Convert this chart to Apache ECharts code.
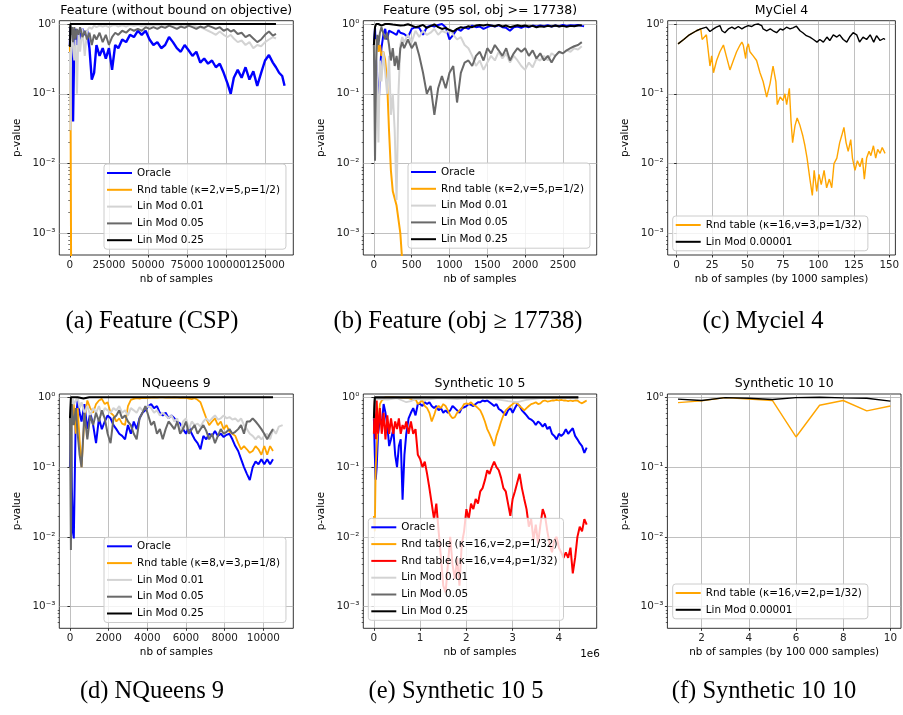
<!DOCTYPE html>
<html><head><meta charset="utf-8">
<script src="https://cdn.jsdelivr.net/npm/echarts@6.0.0/dist/echarts.min.js"></script>
<style>html,body{margin:0;padding:0;background:#fff}#c{width:903px;height:715px}</style>
</head><body><div id="c"></div>
<script>
// ---------------- tick labels ----------------
const xTicksA = [0, 25000, 50000, 75000, 100000, 125000];
const xTicksB = [0, 500, 1000, 1500, 2000, 2500];
const xTicksC = [0, 25, 50, 75, 100, 125, 150];
const xTicksD = [0, 2000, 4000, 6000, 8000, 10000];
const xTicksE = [0, 1, 2, 3, 4];          // in units of 1e6
const xTicksF = [2, 4, 6, 8, 10];
const yMajor = [0.001, 0.01, 0.1, 1];
const yMinor = [6e-4, 7e-4, 8e-4, 9e-4, 2e-3, 3e-3, 4e-3, 5e-3, 6e-3, 7e-3, 8e-3, 9e-3,
  0.02, 0.03, 0.04, 0.05, 0.06, 0.07, 0.08, 0.09, 0.2, 0.3, 0.4, 0.5, 0.6, 0.7, 0.8, 0.9];
const yTickText = {'0': '10⁰', '-1': '10⁻¹', '-2': '10⁻²', '-3': '10⁻³'};

// ---------------- (a) Feature (without bound on objective) ----------------
const xA = [0, 400, 800, 1300, 2000, 2800, 3600, 4500, 5500, 6500,
  8000, 9500, 11000, 12500, 14000, 15500, 17000, 19000, 21000, 23000,
  25000, 27000, 29000, 31000, 33500, 36000, 38500, 41000, 43500, 46000,
  48500, 51000, 53500, 56000, 58500, 61000, 63500, 66000, 68500, 71000,
  73500, 76000, 78500, 81000, 83500, 86000, 88500, 91000, 93500, 96000,
  98500, 101000, 103000, 105000, 107500, 110000, 112500, 115000, 117500, 120000,
  122500, 125000, 127500, 130000, 132000, 134000, 136000, 137500];
const oracleA = [0.5, 0.9, 0.6, 0.2, 0.04, 0.6, 0.85, 0.5, 0.8, 0.6,
  0.85, 0.7, 0.8, 0.45, 0.16, 0.2, 0.5, 0.35, 0.45, 0.32,
  0.45, 0.22, 0.5, 0.45, 0.6, 0.55, 0.7, 0.65, 0.8, 0.7,
  0.8, 0.6, 0.5, 0.55, 0.45, 0.5, 0.65, 0.55, 0.45, 0.4,
  0.5, 0.42, 0.35, 0.4, 0.28, 0.32, 0.27, 0.3, 0.24, 0.27,
  0.2, 0.14, 0.1, 0.17, 0.22, 0.17, 0.24, 0.16, 0.21, 0.13,
  0.2, 0.3, 0.36, 0.28, 0.24, 0.2, 0.18, 0.13];
const rndA = [0.5, 0.08, 0.0002];
const lin001A = [0.4, 0.03, 0.6, 0.9, 0.5, 0.3, 0.6, 0.1, 0.8, 0.4,
  0.85, 0.35, 0.8, 0.9, 0.85, 0.95, 0.9, 0.95, 0.92, 0.95,
  0.9, 0.95, 0.97, 0.92, 0.96, 0.92, 0.97, 0.94, 0.97, 0.93,
  0.97, 0.94, 0.97, 0.95, 0.98, 0.95, 0.98, 0.95, 0.97, 0.94,
  0.97, 0.93, 0.96, 0.92, 0.9, 0.85, 0.8, 0.75, 0.7, 0.78,
  0.7, 0.65, 0.7, 0.62, 0.55, 0.58, 0.5, 0.55, 0.45, 0.5,
  0.48, 0.55, 0.6, 0.65, 0.62];
const lin005A = [0.5, 0.95, 0.7, 0.9, 0.55, 0.9, 0.6, 0.85, 0.7, 0.9,
  0.65, 0.8, 0.6, 0.75, 0.5, 0.7, 0.6, 0.75, 0.55, 0.7,
  0.5, 0.65, 0.75, 0.7, 0.8, 0.75, 0.85, 0.8, 0.85, 0.8,
  0.9, 0.85, 0.9, 0.85, 0.92, 0.88, 0.95, 0.9, 0.85, 0.92,
  0.88, 0.95, 0.9, 0.85, 0.92, 0.88, 0.95, 0.9, 0.85, 0.9,
  0.8, 0.85, 0.78, 0.82, 0.72, 0.75, 0.65, 0.7, 0.62, 0.55,
  0.6, 0.7, 0.78, 0.68, 0.72];
const lin025Ax = [0, 300, 1000, 132000];
const lin025A = [0.47, 1.0, 1.0, 1.0];

// ---------------- (b) Feature (95 sol, obj >= 17738) ----------------
const xB = [0, 15, 30, 45, 60, 80, 100, 125, 150, 175,
  200, 225, 250, 275, 300, 325, 350, 375, 400,
  450, 500, 550, 600, 650, 700, 750, 800, 850, 900,
  950, 1000, 1050, 1100, 1150, 1200, 1250, 1300, 1350, 1400,
  1450, 1500, 1550, 1600, 1650, 1700, 1750, 1800, 1850, 1900,
  1950, 2000, 2050, 2100, 2150, 2200, 2250, 2300, 2350, 2400,
  2450, 2500, 2550, 2600, 2650, 2700, 2750, 2780];
const oracleB = [0.5, 0.9, 0.3, 0.15, 0.055, 0.2, 0.45, 0.7, 0.85, 0.6,
  0.8, 0.85, 0.75, 0.8, 0.7, 0.82, 0.75, 0.8, 0.72,
  0.65, 0.85, 0.9, 0.88, 0.7, 0.9, 0.95, 0.92, 0.97, 1.0,
  0.9, 0.6, 0.7, 0.85, 0.8, 0.9, 0.85, 0.95, 0.9, 0.92,
  0.85, 0.9, 0.95, 0.92, 0.96, 0.9, 0.88, 0.8, 0.9, 0.92,
  0.88, 0.93, 0.9, 0.95, 0.92, 0.95, 0.93, 0.96, 0.92, 0.95,
  0.93, 0.97, 0.94, 0.96, 0.95, 0.97, 0.94, 0.93];
const rndB = [0.5, 0.6, 0.45, 0.55, 0.4, 0.5, 0.35, 0.4, 0.3, 0.15,
  0.03, 0.008, 0.004, 0.004, 0.0025, 0.0025, 0.001, 0.0004, 0.0002];
const lin001B = [0.5, 0.3, 0.6, 0.1, 0.02, 0.3, 0.15, 0.4, 0.2, 0.1,
  0.35, 0.05, 0.1, 0.03, 0.003, 0.1, 0.5, 0.65, 0.55,
  0.7, 0.55, 0.8, 0.65, 0.8, 0.7, 0.75, 0.85, 0.7, 0.8,
  0.75, 0.85, 0.7, 0.6, 0.65, 0.5, 0.45, 0.35, 0.25, 0.3,
  0.22, 0.28, 0.35, 0.3, 0.4, 0.32, 0.38, 0.28, 0.35, 0.3,
  0.25, 0.22, 0.28, 0.24, 0.32, 0.3, 0.35, 0.3, 0.38, 0.35,
  0.4, 0.38, 0.42, 0.4, 0.45, 0.43, 0.48];
const lin005B = [0.5, 0.011, 0.3, 0.7, 0.5, 0.75, 0.9, 0.85, 0.6, 0.75,
  0.5, 0.3, 0.45, 0.25, 0.35, 0.22, 0.45, 0.55, 0.45,
  0.6, 0.45, 0.55, 0.35, 0.2, 0.1, 0.13, 0.05, 0.12, 0.18,
  0.12, 0.2, 0.25, 0.075, 0.2, 0.28, 0.3, 0.25, 0.35, 0.4,
  0.3, 0.45, 0.38, 0.5, 0.42, 0.35, 0.45, 0.3, 0.38, 0.45,
  0.4, 0.45, 0.35, 0.42, 0.32, 0.38, 0.3, 0.35, 0.28, 0.35,
  0.4, 0.38, 0.42, 0.45, 0.48, 0.5, 0.55];
const lin025B = [0.5, 0.9, 1.0, 0.95, 1.0, 0.97, 0.95, 1.0, 1.0, 0.98,
  1.0, 0.95, 0.98, 0.92, 0.97, 0.99, 0.95, 0.98, 0.96,
  0.99, 0.95, 0.9, 0.93, 0.97, 0.88, 0.93, 0.99, 0.9, 0.85,
  0.88, 0.82, 0.78, 0.85, 0.9, 0.88, 0.93, 0.9, 0.95, 0.97,
  0.95, 0.98, 0.95, 0.93, 0.97, 0.92, 0.95, 0.9, 0.93, 0.96,
  0.93, 0.95, 0.92, 0.94, 0.9, 0.93, 0.91, 0.94, 0.92, 0.95,
  0.92, 0.94, 0.91, 0.94, 0.93, 0.95, 0.96];

// ---------------- (c) MyCiel 4 (x in thousands of samples) ----------------
const rndCx = [1, 5, 9, 14, 17, 18, 21, 22, 23.5, 24.7,
  26, 28.2, 30.5, 33, 33.6, 35, 37.6, 40, 42.3, 44.7,
  46, 47, 48.7, 49.4, 50.6, 51.7, 54, 56.4, 58.8, 61,
  63.5, 65.9, 68, 70, 71, 73, 75, 76.4, 77.6, 79.5,
  80.7, 81.8, 83.5, 85, 87, 89, 90.5, 92, 94, 95.7,
  97, 98.8, 100.4, 102, 104, 105.8, 107.7, 109.4, 111, 113,
  115, 116.4, 118, 119.5, 121, 122.8, 124, 125.8, 127.5, 129.3,
  131, 132.4, 134, 135.7, 137, 138.8, 140.4, 141.8, 143.5, 145, 147];
const rndC = [0.52, 0.6, 0.7, 0.8, 0.85, 0.6, 0.7, 0.72, 0.25, 0.35,
  0.2, 0.3, 0.4, 0.5, 0.45, 0.35, 0.22, 0.3, 0.4, 0.5,
  0.55, 0.5, 0.32, 0.45, 0.52, 0.4, 0.35, 0.3, 0.2, 0.15,
  0.09, 0.14, 0.25, 0.15, 0.07, 0.09, 0.08, 0.1, 0.07, 0.12,
  0.04, 0.02, 0.035, 0.045, 0.035, 0.025, 0.018, 0.012, 0.006, 0.0035,
  0.008, 0.004, 0.007, 0.005, 0.008, 0.0045, 0.006, 0.0045, 0.01, 0.012,
  0.02, 0.025, 0.033, 0.02, 0.015, 0.022, 0.012, 0.008, 0.011, 0.009,
  0.012, 0.006, 0.012, 0.015, 0.013, 0.018, 0.012, 0.016, 0.014, 0.017, 0.014];
const linCx = [1, 5, 9, 14, 17, 21, 22, 23.5, 26, 28,
  30.5, 32, 34, 36.5, 39, 41, 43.5, 46, 48, 50.5,
  53, 55, 57.5, 60, 61, 63.5, 66, 68, 70.5, 73,
  75, 77.5, 80, 82, 84.5, 87, 89, 91.5, 94, 96.5,
  99, 101, 103.5, 106, 108, 110.5, 113, 115, 117.5, 120,
  122, 124.5, 127, 129, 131.5, 134, 136.5, 139, 141, 143.5, 146, 147];
const linC = [0.52, 0.6, 0.7, 0.8, 0.85, 0.9, 0.93, 0.78, 0.85, 0.9,
  0.95, 0.8, 0.75, 0.85, 0.9, 0.85, 0.92, 0.85, 0.9, 0.95,
  0.92, 0.98, 1.0, 0.95, 0.85, 0.8, 0.85, 0.8, 0.75, 0.85,
  0.82, 0.9, 0.85, 0.88, 0.93, 0.8, 0.75, 0.68, 0.65, 0.6,
  0.55, 0.6, 0.55, 0.65, 0.58, 0.7, 0.65, 0.7, 0.6, 0.55,
  0.65, 0.75, 0.7, 0.55, 0.65, 0.6, 0.7, 0.55, 0.68, 0.58, 0.62, 0.6];

// ---------------- (d) NQueens 9 ----------------
const xD = [0, 50, 100, 150, 200, 300, 400, 500, 600,
  750, 900, 1050, 1200, 1350, 1500, 1650, 1800, 1950, 2100,
  2250, 2400, 2550, 2700, 2850, 3000, 3150, 3300, 3450, 3600,
  3750, 3900, 4050, 4200, 4350, 4500, 4650, 4800, 4950, 5100,
  5250, 5400, 5550, 5700, 5850, 6000, 6150, 6300, 6450, 6600,
  6750, 6900, 7050, 7200, 7350, 7500, 7650, 7800, 7950, 8100,
  8250, 8400, 8550, 8700, 8850, 9000, 9150, 9300, 9450, 9600,
  9750, 9900, 10050, 10200, 10350, 10500, 10650, 10800, 11000];
const oracleD = [0.1, 0.5, 0.05, 0.012, 0.0095, 0.5, 0.9, 0.6, 0.45,
  0.8, 0.35, 0.6, 0.4, 0.22, 0.5, 0.35, 0.45, 0.55, 0.5,
  0.4, 0.35, 0.3, 0.28, 0.25, 0.4, 0.3, 0.45, 0.35, 0.5,
  0.6, 0.65, 0.75, 0.8, 0.7, 0.75, 0.6, 0.55, 0.6, 0.5,
  0.55, 0.5, 0.45, 0.42, 0.35, 0.3, 0.38, 0.3, 0.25, 0.22,
  0.18, 0.28, 0.25, 0.3, 0.28, 0.33, 0.28, 0.3, 0.27, 0.29,
  0.3, 0.25, 0.2, 0.17, 0.13, 0.1, 0.08, 0.065, 0.1, 0.12,
  0.11, 0.13, 0.11, 0.13, 0.11, 0.13];
const rndD = [0.3, 0.6, 0.8, 0.4, 0.8, 0.3, 0.7, 0.25, 0.1,
  0.5, 0.9, 0.7, 0.6, 0.8, 0.9, 0.95, 0.8, 0.85, 0.6,
  0.55, 0.45, 0.5, 0.42, 0.4, 0.75, 0.92, 0.95, 0.97, 0.96,
  0.98, 0.97, 0.98, 0.99, 1.0, 0.99, 1.0, 1.0, 0.99, 1.0,
  0.99, 1.0, 0.99, 0.98, 0.99, 0.98, 0.96, 0.94, 0.97, 0.92,
  0.85, 0.65, 0.5, 0.4, 0.45, 0.5, 0.4, 0.45, 0.35, 0.4,
  0.32, 0.3, 0.28, 0.22, 0.18, 0.2, 0.18, 0.16, 0.17, 0.2,
  0.18, 0.15, 0.2, 0.15, 0.2, 0.17];
const lin001D = [0.3, 0.9, 0.6, 0.95, 0.8, 0.9, 1.0, 0.7, 0.85,
  0.6, 0.75, 0.55, 0.7, 0.6, 0.75, 0.55, 0.7, 0.65, 0.6,
  0.7, 0.65, 0.75, 0.6, 0.65, 0.55, 0.7, 0.65, 0.6, 0.72,
  0.65, 0.7, 0.75, 0.7, 0.6, 0.65, 0.55, 0.6, 0.55, 0.5,
  0.55, 0.45, 0.5, 0.3, 0.45, 0.5, 0.35, 0.45, 0.4, 0.42,
  0.38, 0.45, 0.5, 0.45, 0.5, 0.55, 0.48, 0.5, 0.55, 0.5,
  0.52, 0.48, 0.5, 0.45, 0.5, 0.4, 0.35, 0.3, 0.28, 0.25,
  0.28, 0.25, 0.28, 0.3, 0.25, 0.35, 0.3, 0.38, 0.4];
const lin005D = [0.5, 0.0065, 0.8, 0.5, 0.4, 0.7, 0.3, 0.15, 0.1,
  0.6, 0.25, 0.55, 0.4, 0.6, 0.45, 0.65, 0.5, 0.3, 0.22,
  0.5, 0.55, 0.65, 0.5, 0.55, 0.45, 0.4, 0.3, 0.25, 0.5,
  0.6, 0.75, 0.55, 0.4, 0.45, 0.3, 0.35, 0.25, 0.35, 0.45,
  0.4, 0.35, 0.45, 0.3, 0.35, 0.45, 0.3, 0.35, 0.4, 0.3,
  0.35, 0.4, 0.33, 0.25, 0.3, 0.22, 0.28, 0.35, 0.3, 0.32,
  0.35, 0.3, 0.32, 0.35, 0.4, 0.3, 0.45, 0.45, 0.5, 0.45,
  0.4, 0.35, 0.3, 0.25, 0.3, 0.35];
const lin025Dx = [0, 50, 150, 400, 700, 1000, 1300, 10500];
const lin025D = [0.5, 1.0, 0.95, 1.0, 0.96, 1.0, 1.0, 1.0];

// ---------------- (e) Synthetic 10 5 (x in units of 1e6 samples) ----------------
const xE = [0, 0.02, 0.04, 0.06, 0.09, 0.13, 0.17, 0.21, 0.25, 0.29,
  0.33, 0.37, 0.42, 0.46, 0.5, 0.54, 0.58, 0.62, 0.66, 0.7,
  0.75, 0.8, 0.85, 0.9, 0.95,
  1.0, 1.05, 1.1, 1.15, 1.2, 1.25, 1.3, 1.35, 1.4, 1.45,
  1.5, 1.55, 1.6, 1.65, 1.7, 1.75, 1.8, 1.85, 1.9, 1.95,
  2.0, 2.05, 2.1, 2.15, 2.2, 2.25, 2.3, 2.35, 2.4, 2.45,
  2.5, 2.55, 2.6, 2.65, 2.7, 2.75, 2.8, 2.85, 2.9, 2.95,
  3.0, 3.05, 3.1, 3.15, 3.2, 3.25, 3.3, 3.35, 3.4, 3.45,
  3.5, 3.55, 3.6, 3.65, 3.7, 3.75, 3.8, 3.85, 3.9, 3.95,
  4.0, 4.05, 4.1, 4.15, 4.2, 4.25, 4.3, 4.35, 4.4, 4.45,
  4.5, 4.55, 4.6];
const oracleE = [0.5, 0.15, 0.066, 0.1, 0.3, 0.5, 0.4, 0.8, 0.6, 0.4,
  0.2, 0.25, 0.35, 0.15, 0.1, 0.2, 0.25, 0.034, 0.15, 0.3,
  0.5, 0.6, 0.7, 0.55, 0.8,
  0.8, 0.75, 0.85, 0.8, 0.85, 0.75, 0.7, 0.75, 0.65, 0.7,
  0.6, 0.65, 0.6, 0.65, 0.75, 0.7, 0.65, 0.6, 0.7, 0.72,
  0.75, 0.8, 0.78, 0.75, 0.8, 0.85, 0.85, 0.9, 0.88, 0.9,
  0.85, 0.8, 0.75, 0.8, 0.68, 0.65, 0.6, 0.55, 0.65, 0.7,
  0.6, 0.7, 0.8, 0.75, 0.65, 0.6, 0.55, 0.5, 0.48, 0.45,
  0.4, 0.45, 0.42, 0.38, 0.42, 0.35, 0.38, 0.3, 0.28, 0.25,
  0.3, 0.28, 0.3, 0.35, 0.3, 0.33, 0.36, 0.28, 0.25, 0.22,
  0.2, 0.16, 0.19];
const rnd2E = [0.02, 0.012, 0.1, 0.2, 0.4, 0.8, 0.9, 0.95, 1.0, 0.97,
  1.0, 0.98, 1.0, 0.97, 0.99, 0.96, 0.98, 0.95, 0.97, 0.94,
  0.97, 0.95, 0.92, 0.95, 0.8,
  0.85, 0.9, 0.75, 0.7, 0.6, 0.45, 0.55, 0.7, 0.75, 0.7,
  0.8, 0.75, 0.65, 0.55, 0.5, 0.52, 0.6, 0.65, 0.7, 0.8,
  0.82, 0.8, 0.85, 0.78, 0.75, 0.7, 0.65, 0.55, 0.45, 0.35,
  0.3, 0.25, 0.2, 0.28, 0.35, 0.45, 0.55, 0.65, 0.7, 0.75,
  0.8, 0.85, 0.82, 0.75, 0.7, 0.65, 0.7, 0.75, 0.8, 0.82,
  0.85, 0.8, 0.82, 0.88, 0.9, 0.87, 0.88, 0.9, 0.9, 0.92,
  0.9, 0.92, 0.9, 0.9, 0.88, 0.9, 0.88, 0.9, 0.9, 0.85,
  0.82, 0.86, 0.9];
const rnd4E = [0.3, 0.9, 0.25, 0.9, 0.3, 0.7, 0.3, 0.6, 0.25, 0.55,
  0.3, 0.5, 0.3, 0.45, 0.35, 0.5, 0.3, 0.4, 0.35, 0.45,
  0.3, 0.45, 0.3, 0.35, 0.15,
  0.13, 0.1, 0.12, 0.08, 0.05, 0.03, 0.018, 0.03, 0.012, 0.005,
  0.002, 0.0016, 0.004, 0.01, 0.004, 0.0025, 0.005, 0.002, 0.008, 0.012,
  0.025, 0.018, 0.03, 0.025, 0.035, 0.03, 0.045, 0.05, 0.065, 0.09,
  0.08, 0.1, 0.12, 0.1, 0.09, 0.07, 0.05, 0.045, 0.03, 0.02,
  0.035, 0.045, 0.06, 0.08, 0.05, 0.035, 0.025, 0.014, 0.018, 0.009,
  0.015, 0.008, 0.015, 0.025, 0.02, 0.012, 0.008, 0.006, 0.009, 0.01,
  0.007, 0.006, 0.005, 0.006, 0.005, 0.007, 0.003, 0.005, 0.01, 0.014,
  0.012, 0.018, 0.015];
const lin001Ex = [0, 0.03, 0.3, 0.5, 0.7, 0.8, 0.9, 1.1, 1.4, 1.8, 2.2, 2.6, 2.9, 3.1, 3.3, 3.6, 4.0, 4.42];
const lin001E = [0.5, 0.95, 0.93, 0.97, 0.85, 0.88, 0.95, 0.92, 0.97, 0.94, 0.98, 0.95, 0.88, 0.85, 0.92, 0.97, 0.98, 0.96];
const lin005Ex = [0, 0.02, 0.5, 1.5, 2.5, 3.5, 4.42];
const lin005E = [0.5, 0.98, 0.99, 0.98, 0.99, 0.98, 0.99];
const lin025Ex = [0, 0.02, 4.42];
const lin025E = [0.5, 1.0, 1.0];

// ---------------- (f) Synthetic 10 10 (x in units of 100 000 samples) ----------------
const xF = [1, 2, 3, 4, 5, 6, 7, 8, 9, 10];
const rndF = [0.84, 0.89, 0.99, 0.94, 0.9, 0.27, 0.77, 0.9, 0.64, 0.75];
const linF = [0.94, 0.9, 0.99, 0.97, 0.93, 0.99, 1.0, 0.98, 0.97, 0.88];

// ---------------- names / colours ----------------
const N = {
  oracle: 'Oracle',
  rndA: 'Rnd table (κ=2,v=5,p=1/2)',
  rndC: 'Rnd table (κ=16,v=3,p=1/32)',
  rndD: 'Rnd table (κ=8,v=3,p=1/8)',
  rndE2: 'Rnd table (κ=16,v=2,p=1/32)',
  rndE4: 'Rnd table (κ=16,v=4,p=1/32)',
  l001: 'Lin Mod 0.01', l005: 'Lin Mod 0.05', l025: 'Lin Mod 0.25', l00001: 'Lin Mod 0.00001'
};
const COL = {blue: '#0000ff', orange: '#ffa500', red: '#ff0000', light: '#d3d3d3', dim: '#696969', black: '#000000'};

const Y_MIN = 4.9e-4, Y_MAX = 1.115;
const FONT = 'DejaVu Sans';

function S(name, c, xs, ys, w) { return {name, c, xs, ys, w}; }

const panels = [
  {grid: {left: 59.3, top: 20.7, width: 234, height: 234.3}, x: [-6800, 143100], ticks: xTicksA,
   labelGroups: [[0, 25000, 50000, 75000, 100000], [125000]],
   title: 'Feature (without bound on objective)', xname: 'nb of samples',
   caption: '(a) Feature (CSP)', cap: [152, 322], legend: [104, 164],
   series: [S(N.oracle, 'blue', xA, oracleA, 2.4), S(N.rndA, 'orange', xA, rndA, 2.0),
            S(N.l001, 'light', xA, lin001A, 2.0), S(N.l005, 'dim', xA, lin005A, 2.0),
            S(N.l025, 'black', lin025Ax, lin025A, 2.0)]},
  {grid: {left: 363.3, top: 20.7, width: 233.4, height: 234.3}, x: [-140, 2947], ticks: xTicksB,
   title: 'Feature (95 sol, obj >= 17738)', xname: 'nb of samples',
   caption: '(b) Feature (obj ≥ 17738)', cap: [458, 322], legend: [408, 163],
   series: [S(N.oracle, 'blue', xB, oracleB, 2.0), S(N.rndA, 'orange', xB, rndB, 2.0),
            S(N.l001, 'light', xB, lin001B, 2.0), S(N.l005, 'dim', xB, lin005B, 2.0),
            S(N.l025, 'black', xB, lin025B, 2.0)]},
  {grid: {left: 667.7, top: 20.7, width: 227.7, height: 234.3}, x: [-6.3, 154.3], ticks: xTicksC,
   title: 'MyCiel 4', xname: 'nb of samples (by 1000 samples)',
   caption: '(c) Myciel 4', cap: [763, 322], legend: [672.7, 216],
   series: [S(N.rndC, 'orange', rndCx, rndC, 1.4), S(N.l00001, 'black', linCx, linC, 1.4)]},
  {grid: {left: 59.3, top: 394, width: 234, height: 234.3}, x: [-550, 11550], ticks: xTicksD,
   title: 'NQueens 9', xname: 'nb of samples',
   caption: '(d) NQueens 9', cap: [152, 692], legend: [104, 537.3],
   series: [S(N.oracle, 'blue', xD, oracleD, 2.0), S(N.rndD, 'orange', xD, rndD, 1.8),
            S(N.l001, 'light', xD, lin001D, 2.0), S(N.l005, 'dim', xD, lin005D, 2.0),
            S(N.l025, 'black', lin025Dx, lin025D, 2.0)]},
  {grid: {left: 363.3, top: 394, width: 233.4, height: 234.3}, x: [-0.229, 4.817], ticks: xTicksE,
   title: 'Synthetic 10 5', xname: 'nb of samples',
   caption: '(e) Synthetic 10 5', cap: [456, 692], legend: [368.3, 518.3],
   series: [S(N.oracle, 'blue', xE, oracleE, 2.0), S(N.rndE2, 'orange', xE, rnd2E, 1.8),
            S(N.rndE4, 'red', xE, rnd4E, 2.0), S(N.l001, 'light', lin001Ex, lin001E, 1.8),
            S(N.l005, 'dim', lin005Ex, lin005E, 1.8), S(N.l025, 'black', lin025Ex, lin025E, 2.0)]},
  {grid: {left: 667.4, top: 394, width: 233.6, height: 234.3}, x: [0.55, 10.45], ticks: xTicksF,
   title: 'Synthetic 10 10', xname: 'nb of samples (by 100 000 samples)',
   caption: '(f) Synthetic 10 10', cap: [764, 692], legend: [672.7, 584],
   series: [S(N.rndE2, 'orange', xF, rndF, 1.4), S(N.l00001, 'black', xF, linF, 1.4)]}
];

const grids = [], xAxes = [], yAxes = [], series = [], legends = [], graphics = [];
const extraX = [];
const axisTextStyle = {fontFamily: FONT, fontSize: 10.4, color: '#000'};
const labelStyle = {margin: 5, fontFamily: FONT, fontSize: 10.4, color: '#222',
  hideOverlap: false, showMinLabel: true, showMaxLabel: true, formatter: v => String(v)};
panels.forEach((p, i) => {
  grids.push({left: p.grid.left, top: p.grid.top, width: p.grid.width, height: p.grid.height,
    show: true, borderColor: '#000', borderWidth: 0.8, backgroundColor: 'rgba(0,0,0,0)'});
  const groups = p.labelGroups || [p.ticks];
  xAxes.push({type: 'value', gridIndex: i, position: 'bottom', offset: 0, min: p.x[0], max: p.x[1],
    name: p.xname, nameLocation: 'middle', nameGap: 19, nameTextStyle: axisTextStyle,
    axisLine: {show: false},
    axisTick: {show: true, inside: false, length: 2.5, customValues: p.ticks, lineStyle: {color: '#000', width: 0.8}},
    axisLabel: Object.assign({customValues: groups[0]}, labelStyle),
    splitLine: {show: true, lineStyle: {color: '#b0b0b0', width: 0.8}}});
  // extra label-only axes on the same bottom edge (so touching labels are not dropped)
  groups.slice(1).forEach(g => extraX.push({type: 'value', gridIndex: i, position: 'bottom', offset: 0,
    min: p.x[0], max: p.x[1],
    axisLine: {show: false}, axisTick: {show: false}, splitLine: {show: false},
    axisLabel: Object.assign({customValues: g}, labelStyle)}));
  yAxes.push({type: 'log', logBase: 10, gridIndex: i, position: 'left', offset: 0, min: Y_MIN, max: Y_MAX,
    name: 'p-value', nameLocation: 'middle', nameGap: 37, nameRotate: 90, nameTextStyle: axisTextStyle,
    axisLine: {show: false},
    axisTick: {show: true, inside: false, length: 2.5, customValues: yMajor, lineStyle: {color: '#000', width: 0.8}},
    axisLabel: {customValues: yMajor, margin: 4, fontFamily: FONT, fontSize: 10.4, color: '#222',
      hideOverlap: false,
      formatter: v => yTickText[String(Math.round(Math.log10(v)))] || ''},
    splitLine: {show: true, lineStyle: {color: '#b0b0b0', width: 0.8}},
    minorTick: {show: false}});
  yAxes.push({type: 'log', logBase: 10, gridIndex: i, position: 'left', offset: 0, min: Y_MIN, max: Y_MAX,
    axisLine: {show: false},
    axisTick: {show: true, inside: false, length: 1.6, customValues: yMinor, lineStyle: {color: '#000', width: 0.6}},
    axisLabel: {show: false}, splitLine: {show: false}, minorTick: {show: false}});
  p.series.forEach(s => {
    series.push({type: 'line', name: s.name, xAxisIndex: i, yAxisIndex: 2 * i,
      data: s.ys.map((y, k) => [s.xs[k], y]),
      symbol: 'none', showSymbol: false, color: COL[s.c],
      lineStyle: {width: s.w, color: COL[s.c]}, itemStyle: {color: COL[s.c]},
      animation: false, silent: true, clip: true});
  });
  legends.push({show: true, orient: 'vertical', left: p.legend[0], top: p.legend[1],
    data: p.series.map(s => s.name), icon: 'rect', itemWidth: 25, itemHeight: 2, itemGap: 4.8,
    padding: [3, 6, 3, 3], backgroundColor: 'rgba(255,255,255,0.8)', borderColor: '#cccccc',
    borderWidth: 1, borderRadius: 3, selectedMode: false,
    textStyle: {fontFamily: FONT, fontSize: 10.4, color: '#000', lineHeight: 12}});
  const cx = p.grid.left + p.grid.width / 2;
  graphics.push({type: 'text', x: cx, y: p.grid.top - 10, silent: true,
    style: {text: p.title, font: '12.5px "DejaVu Sans"', fill: '#000',
      textAlign: 'center', textVerticalAlign: 'middle', align: 'center', verticalAlign: 'middle'}});
  graphics.push({type: 'text', x: p.cap[0], y: p.cap[1], silent: true,
    style: {text: p.caption, font: '24.5px "Liberation Serif"', fill: '#000',
      textAlign: 'center', textVerticalAlign: 'middle', align: 'center', verticalAlign: 'middle'}});
});
extraX.forEach(a => xAxes.push(a));
// offset text of the (e) x axis
graphics.push({type: 'text', x: 590, y: 654, silent: true,
  style: {text: '1e6', font: '10.4px "DejaVu Sans"', fill: '#000',
    textAlign: 'center', textVerticalAlign: 'middle', align: 'center', verticalAlign: 'middle'}});

const chart = echarts.init(document.getElementById('c'), null, {renderer: 'canvas', width: 903, height: 715});
chart.setOption({
  animation: false,
  backgroundColor: '#ffffff',
  textStyle: {fontFamily: FONT},
  grid: grids, xAxis: xAxes, yAxis: yAxes, series: series, legend: legends,
  graphic: {elements: graphics}
});
</script></body></html>
